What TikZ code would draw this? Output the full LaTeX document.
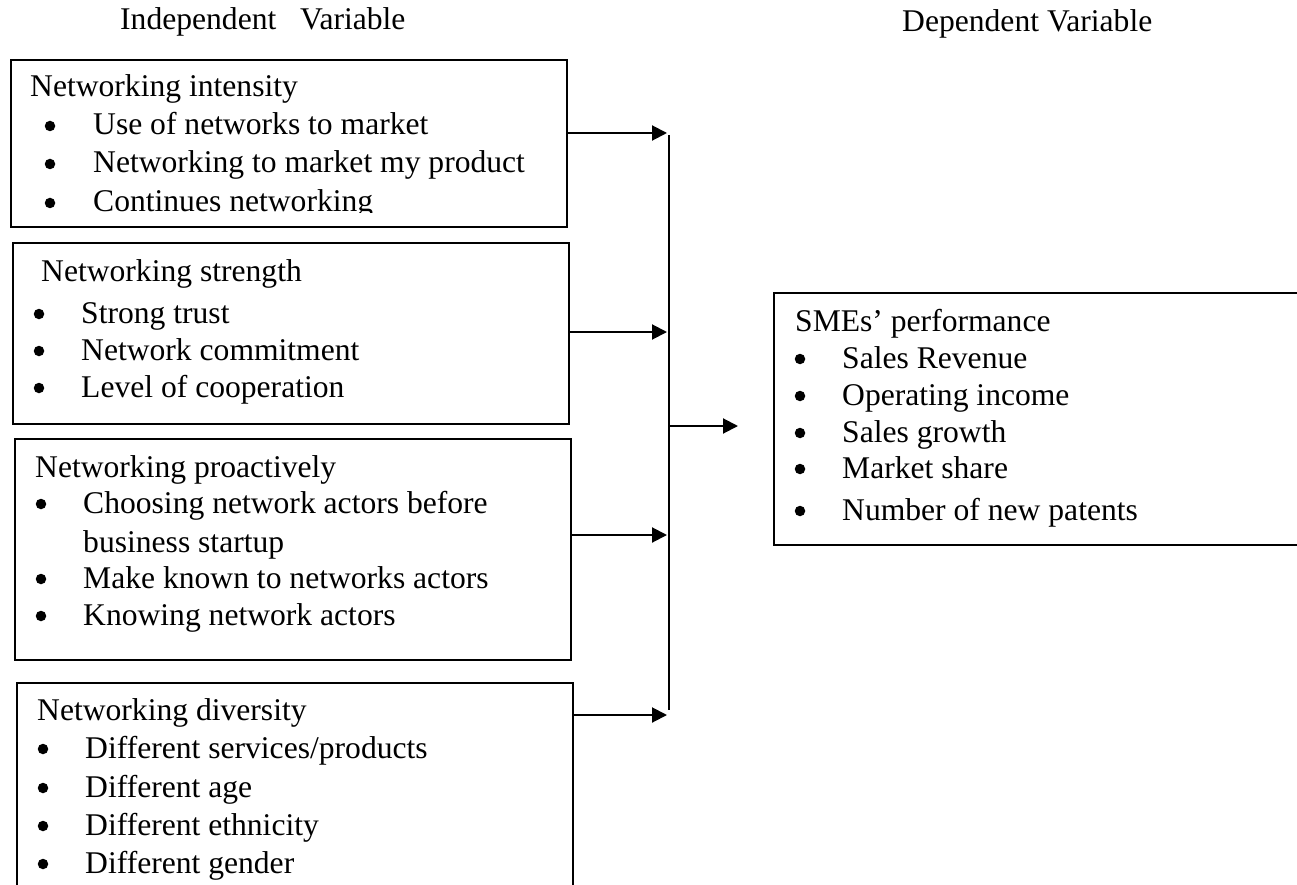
\documentclass[tikz,border=0pt]{standalone}
\usepackage{fontspec}
\setmainfont{Liberation Serif}
\usetikzlibrary{arrows.meta}
\tikzset{
  box/.style={draw=black, line width=1.6pt, rectangle, anchor=north west, inner sep=0pt},
  txt/.style={anchor=base west, inner sep=0pt, font=\fontsize{31.6}{37.5}\selectfont},
  dot/.style={circle, fill=black, inner sep=0pt, minimum size=10.5pt, yshift=9pt},
  arr/.style={line width=2pt, -{Triangle[length=15pt,width=15pt]}},
  bus/.style={line width=1.3pt}
}
\begin{document}
\begin{tikzpicture}[x=1pt,y=-1pt]
\useasboundingbox (0,0) rectangle (1297,885);
\clip (0,0) rectangle (1297,885);
% headers
\node[txt] (hind) at (120,30) {Independent};
\node[txt] (hvar) at (300,30) {Variable};
\node[txt] (hdep) at (902,32) {Dependent Variable};
% boxes
\node[box, minimum width=556pt, minimum height=167pt] (b1) at (10,59) {};
\node[box, minimum width=556pt, minimum height=181pt] (b2) at (12,242) {};
\node[box, minimum width=556pt, minimum height=221pt] (b3) at (14,438) {};
\node[box, minimum width=556pt, minimum height=240pt] (b4) at (16,682) {};
\node[box, minimum width=560pt, minimum height=252pt] (rb) at (773,292) {};
% box 1 text (clipped as in the reference)
\begin{scope}
\clip (10,59) rectangle (566,213);
\node[txt] (t1) at (30,97) {Networking intensity};
\node[dot] (d1a) at (50,135) {};
\node[txt] (t1a) at (93,135) {Use of networks to market};
\node[dot] (d1b) at (50,173) {};
\node[txt] (t1b) at (93,173) {Networking to market my product};
\node[dot] (d1c) at (50,212) {};
\node[txt] (t1c) at (93,212) {Continues networking};
\end{scope}
% box 2 text
\node[txt] (t2) at (41,281) {Networking strength};
\node[dot] (d2a) at (39,323) {};
\node[txt] (t2a) at (81,323) {Strong trust};
\node[dot] (d2b) at (39,360) {};
\node[txt] (t2b) at (81,360) {Network commitment};
\node[dot] (d2c) at (39,397) {};
\node[txt] (t2c) at (81,397) {Level of cooperation};
% box 3 text
\node[txt] (t3) at (35,477) {Networking proactively};
\node[dot] (d3a) at (41,513) {};
\node[txt] (t3a) at (83,513) {Choosing network actors before};
\node[txt] (t3a2) at (83,552) {business startup};
\node[dot] (d3b) at (41,588) {};
\node[txt] (t3b) at (83,588) {Make known to networks actors};
\node[dot] (d3c) at (41,625) {};
\node[txt] (t3c) at (83,625) {Knowing network actors};
% box 4 text
\node[txt] (t4) at (37,720) {Networking diversity};
\node[dot] (d4a) at (43,758) {};
\node[txt] (t4a) at (85,758) {Different services/products};
\node[dot] (d4b) at (43,797) {};
\node[txt] (t4b) at (85,797) {Different age};
\node[dot] (d4c) at (43,835) {};
\node[txt] (t4c) at (85,835) {Different ethnicity};
\node[dot] (d4d) at (43,873) {};
\node[txt] (t4d) at (85,873) {Different gender};
% right box text
\node[txt] (tr) at (795,331) {SMEs’ performance};
\node[dot] (dra) at (800,368) {};
\node[txt] (tra) at (842,368) {Sales Revenue};
\node[dot] (drb) at (800,405) {};
\node[txt] (trb) at (842,405) {Operating income};
\node[dot] (drc) at (800,442) {};
\node[txt] (trc) at (842,442) {Sales growth};
\node[dot] (drd) at (800,478) {};
\node[txt] (trd) at (842,478) {Market share};
\node[dot] (dre) at (800,520) {};
\node[txt] (tre) at (842,520) {Number of new patents};
% collector line
\coordinate (vtop) at (669,135);
\coordinate (vbot) at (669,710);
\draw[bus] (vtop) -- (vbot);
% arrows into collector
\coordinate (e1) at (667,133);
\coordinate (e2) at (667,332);
\coordinate (e3) at (667,535);
\coordinate (e4) at (667,715);
\draw[arr] (b1.east |- e1) -- (e1);
\draw[arr] (b2.east |- e2) -- (e2);
\draw[arr] (b3.east |- e3) -- (e3);
\draw[arr] (b4.east |- e4) -- (e4);
% arrow to dependent variable
\coordinate (m0) at (669,426);
\draw[arr, shorten >=35pt] (m0) -- (rb.west |- m0);
\end{tikzpicture}
\end{document}
